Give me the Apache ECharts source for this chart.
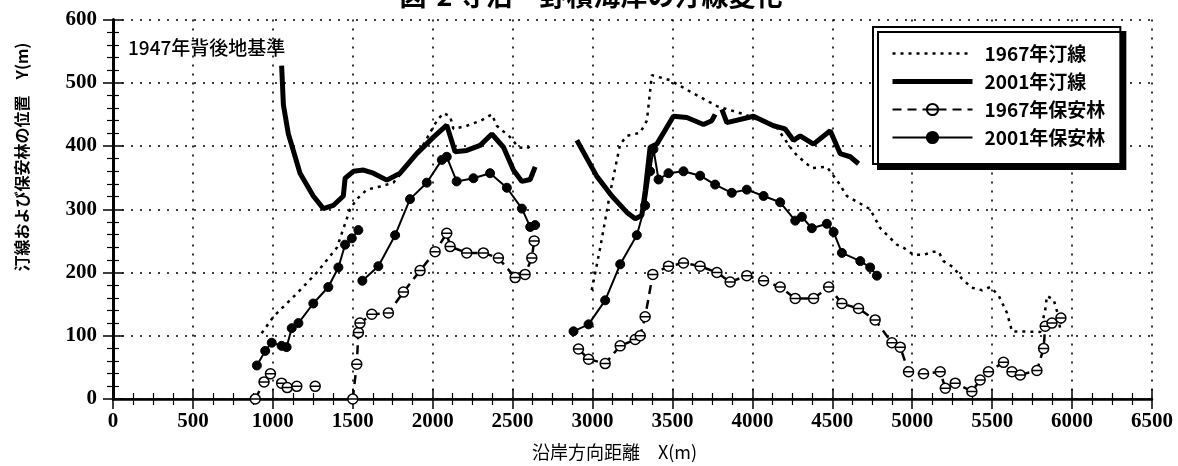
<!DOCTYPE html>
<html><head><meta charset="utf-8">
<script src="https://cdn.jsdelivr.net/npm/echarts@6/dist/echarts.min.js"></script>
<style>html,body{margin:0;padding:0;background:#fff}#c{width:1178px;height:466px}</style>
</head><body><div id="c"></div>
<script>
// ---- data ----
const seriesNames = ['1967年汀線', '2001年汀線', '1967年保安林', '2001年保安林'];
const xTicks = [0, 500, 1000, 1500, 2000, 2500, 3000, 3500, 4000, 4500, 5000, 5500, 6000, 6500];
const yTicks = [0, 100, 200, 300, 400, 500, 600];

const shore1967X = [930,1003,1170,1275,1400,1441,1483,1525,1588,1671,1754,1921,2026,2067,2109,2130,2213,2300,2370,2401,2484,2537,2589,2630,2800,
  2995,3048,3110,3173,3215,3298,3340,3371,3486,3611,3778,3950,4050,4153,4237,4279,4372,4466,4539,4591,4737,4800,4904,4946,5009,5071,5134,5165,5196,5259,5311,5373,5436,5488,5540,5593,5624,5801,5832,5843,5885,5910,5925,5945];
const shore1967Y = [104,130,172,200,239,269,300,316,331,336,342,393,440,452,447,427,432,440,450,432,414,398,396,403,null,
  172,239,326,403,416,421,440,512,504,486,463,450,440,429,398,385,365,367,342,321,300,270,244,239,228,228,233,233,218,208,190,176,172,177,164,136,107,106,141,163,157,135,112,142];

const shore2001X = [1055,1066,1097,1128,1170,1253,1316,1378,1441,1452,1504,1567,1629,1713,1796,1900,2005,2088,2140,2213,2297,2370,2443,2505,2558,2610,2641,2800,
  2902,3027,3121,3215,3267,3308,3330,3360,3402,3506,3590,3694,3746,3767,3790,
  3809,3840,4007,4132,4205,4257,4299,4382,4487,4549,4612,4664];
const shore2001Y = [527,465,419,393,357,321,301,306,321,349,360,362,357,346,357,388,414,433,391,393,401,419,398,362,344,347,367,null,
  409,352,321,295,285,290,330,398,403,447,445,434,440,450,null,
  458,437,447,432,427,409,416,403,424,388,383,372];

const forest1967X = [890,945,985,1020,1055,1090,1120,1150,1200,1265,1400,
  1500,1525,1535,1545,1619,1723,1817,1921,2015,2088,2109,2213,2317,2411,2516,2578,2620,2635,2800,
  2912,2975,3079,3173,3267,3298,3329,3377,3475,3569,3673,3778,3861,3965,4070,4174,4268,4383,4477,4560,4664,4768,4873,4925,4977,5071,5175,5207,5269,5373,5425,5477,5571,5624,5676,5780,5822,5832,5874,5930];
const forest1967Y = [0,27,40,null,25,18,null,20,null,20,null,
  0,55,105,120,134,136,169,203,233,262,241,231,231,223,192,197,223,250,null,
  79,63,56,84,94,100,130,197,210,215,210,200,185,195,187,177,159,159,177,151,143,125,89,82,43,40,43,17,25,12,30,43,58,43,38,45,80,115,120,128];

const forest2001X = [900,952,993,1055,1086,1118,1160,1253,1347,1410,1452,1494,1535,1548,
  1560,1660,1765,1858,1963,2057,2088,2150,2255,2359,2464,2558,2610,2641,2800,
  2881,2975,3079,3173,3277,3329,3360,3381,3413,3475,3569,3673,3767,3871,3965,4070,4174,4268,4310,4372,4466,4508,4560,4675,4737,4779];
const forest2001Y = [53,76,89,84,82,112,120,151,177,208,244,254,267,null,
  187,210,259,316,342,378,383,344,349,357,334,301,272,275,null,
  107,118,156,213,259,306,360,395,347,357,360,353,339,326,331,321,311,282,288,270,277,264,231,218,208,195];

function zip(xs, ys) { return xs.map((x, i) => [x, ys[i]]); }

const chart = echarts.init(document.getElementById('c'), null, {renderer: 'canvas'});
const serif = '"Liberation Serif", "DejaVu Serif", serif';
const cjk = '"Noto Sans CJK JP", "Noto Sans", sans-serif';

const axisCommon = {
  type: 'value',
  axisLine: {show: true, lineStyle: {color: '#000', width: 1.5}},
  axisTick: {show: true, inside: true, length: 10, lineStyle: {color: '#000', width: 1.5}},
  minorTick: {show: true, length: 6, lineStyle: {color: '#000', width: 1.2}},
};
const hideSym = {color: 'rgba(0,0,0,0)', borderColor: 'rgba(0,0,0,0)', borderWidth: 0, opacity: 0};
const thetaSymbol = 'path://M1,10A9,9,0,1,1,19,10A9,9,0,1,1,1,10ZM1,10L19,10';

chart.setOption({
  animation: false,
  backgroundColor: '#fff',
  grid: {left: 113, right: 26, top: 19.5, bottom: 58},
  xAxis: [
    Object.assign({}, axisCommon, {
      min: 0, max: 6500, interval: 500, position: 'bottom',
      minorTick: {show: true, splitNumber: 4, length: 6, lineStyle: {color: '#000', width: 1.2}},
      axisLine: {show: true, lineStyle: {color: '#000', width: 2.5}},
      axisLabel: {margin: 12, color: '#000', fontFamily: serif, fontWeight: 'bold', fontSize: 21,
        formatter: v => xTicks.includes(v) ? String(v) : ''},
      splitLine: {show: true, lineStyle: {color: '#000', type: [2, 7], width: 1.6}},
      name: '沿岸方向距離　X(m)', nameLocation: 'middle', nameGap: 44,
      nameTextStyle: {fontFamily: cjk, fontSize: 18, color: '#000', padding: [0, 36, 0, 0]}
    }),
    Object.assign({}, axisCommon, {
      min: 0, max: 6500, interval: 500, position: 'top',
      minorTick: {show: true, splitNumber: 4, length: 6, lineStyle: {color: '#000', width: 1.2}},
      axisLabel: {show: false}, splitLine: {show: false}
    })
  ],
  yAxis: [
    Object.assign({}, axisCommon, {
      min: 0, max: 600, interval: 100, position: 'left',
      minorTick: {show: true, splitNumber: 5, length: 6, lineStyle: {color: '#000', width: 1.2}},
      axisLine: {show: true, lineStyle: {color: '#000', width: 3}},
      axisLabel: {margin: 16, color: '#000', fontFamily: serif, fontWeight: 'bold', fontSize: 21,
        formatter: v => yTicks.includes(v) ? String(v) : ''},
      splitLine: {show: true, lineStyle: {color: '#000', type: [2, 7], width: 1.6}}
    }),
    Object.assign({}, axisCommon, {
      min: 0, max: 600, interval: 100, position: 'right',
      minorTick: {show: true, splitNumber: 5, length: 6, lineStyle: {color: '#000', width: 1.2}},
      axisLabel: {show: false}, splitLine: {show: false}
    })
  ],
  legend: {
    left: 873, top: 27, orient: 'vertical',
    data: [
      {name: seriesNames[0], itemStyle: hideSym, lineStyle: {color: '#000', width: 2.5, type: [3, 5]}},
      {name: seriesNames[1], itemStyle: hideSym, lineStyle: {color: '#000', width: 5, type: 'solid'}},
      {name: seriesNames[2]},
      {name: seriesNames[3]}
    ],
    itemWidth: 80, itemHeight: 14, itemGap: 9,
    padding: [17, 15, 17, 17],
    backgroundColor: '#fff', borderColor: '#000', borderWidth: 2, borderRadius: 0,
    shadowColor: '#000', shadowBlur: 0, shadowOffsetX: 5, shadowOffsetY: 5,
    textStyle: {fontFamily: cjk, fontWeight: 'bold', fontSize: 19, color: '#000', padding: [0, 0, 0, 7]}
  },
  graphic: [
    {type: 'text', x: 591, y: 9,
      style: {text: '図-2 寺泊・野積海岸の汀線変化', textAlign: 'center', textVerticalAlign: 'bottom',
        font: 'bold 27px "Noto Sans CJK JP"', fill: '#000'}, z: 100},
    {type: 'text', x: 128, y: 48,
      style: {text: '1947年背後地基準', textAlign: 'left', textVerticalAlign: 'middle',
        font: '500 19px "Noto Sans CJK JP"', fill: '#000'}, z: 100},
    {type: 'text', x: 22, y: 157, rotation: Math.PI / 2,
      style: {text: '汀線および保安林の位置　Y(m)', textAlign: 'center', textVerticalAlign: 'middle',
        font: 'bold 16px "Noto Sans CJK JP"', fill: '#000'}, z: 100}
  ],
  series: [
    {name: seriesNames[0], type: 'line', data: zip(shore1967X, shore1967Y), symbol: 'none',
      lineStyle: {color: '#000', width: 2.5, type: [3, 5]}, itemStyle: {color: '#000'}, z: 2},
    {name: seriesNames[1], type: 'line', data: zip(shore2001X, shore2001Y), symbol: 'none',
      lineStyle: {color: '#000', width: 5}, itemStyle: {color: '#000'}, z: 3},
    {name: seriesNames[2], type: 'line', data: zip(forest1967X, forest1967Y), symbol: thetaSymbol, symbolSize: 10,
      lineStyle: {color: '#000', width: 2.5, type: [9, 6]},
      itemStyle: {color: '#fff', borderColor: '#000', borderWidth: 1.5}, z: 4},
    {name: seriesNames[3], type: 'line', data: zip(forest2001X, forest2001Y), symbol: 'circle', symbolSize: 9,
      lineStyle: {color: '#000', width: 2},
      itemStyle: {color: '#000', borderColor: '#000', borderWidth: 1}, z: 5}
  ]
});
</script></body></html>
